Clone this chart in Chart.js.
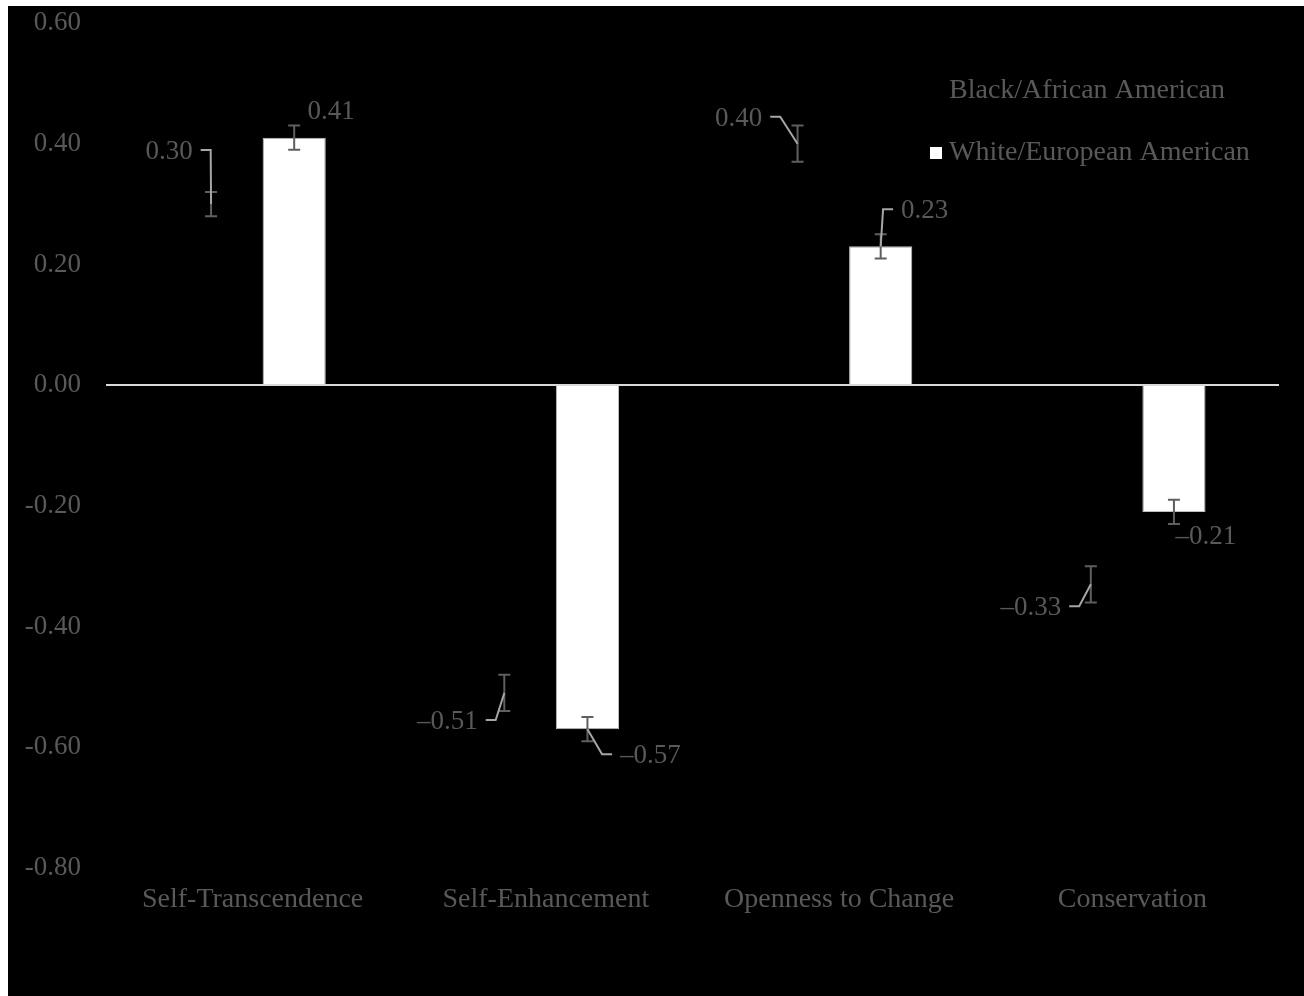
<!DOCTYPE html>
<html>
<head>
<meta charset="utf-8">
<script src="https://cdn.jsdelivr.net/npm/chart.js@4.4.1/dist/chart.umd.min.js"></script>
<style>
    body { margin: 0; background: #ffffff; }
    #wrap { position: absolute; left: 8px; top: 6px; width: 1296px; height: 990px; background: #000000; }
</style>
</head>
<body>
<div id="wrap"><canvas id="valuesChart"></canvas></div>
<script>
const categories = ['Self-Transcendence', 'Self-Enhancement', 'Openness to Change', 'Conservation'];
const seriesNames = ['Black/African American', 'White/European American'];
const blackValues = [0.30, -0.51, 0.40, -0.33];
const whiteValues = [0.41, -0.57, 0.23, -0.21];
const blackErrors = [0.02, 0.03, 0.03, 0.03];
const whiteErrors = [0.02, 0.02, 0.02, 0.02];
const yMin = -0.80;
const yMax = 0.60;
const yStep = 0.20;

const FONT = "'Liberation Serif', 'Times New Roman', serif";
const GRAY = '#595959';

// label placement (pixel offsets from the bar end, dragged like in the original)
const labelOffsets = [
    [{ dx: -42, dy: -52, leader: true }, { dx: -57, dy: 29, leader: true }, { dx: -59, dy: -25, leader: true }, { dx: -60, dy: 24, leader: true }],
    [{ dx: 37, dy: -26, leader: false }, { dx: 63, dy: 27, leader: true }, { dx: 44, dy: -35, leader: true }, { dx: 32, dy: 25, leader: false }]
];

const errorBars = {
    id: 'errorBars',
    afterDatasetsDraw(chart) {
        const ctx = chart.ctx;
        const y = chart.scales.y;
        ctx.save();
        ctx.strokeStyle = '#5f5f5f';
        ctx.lineWidth = 2;
        chart.data.datasets.forEach((ds, di) => {
            chart.getDatasetMeta(di).data.forEach((bar, i) => {
                const v = ds.data[i], e = ds.errors[i];
                const top = y.getPixelForValue(v + e);
                const bot = y.getPixelForValue(v - e);
                ctx.beginPath();
                ctx.moveTo(bar.x, top); ctx.lineTo(bar.x, bot);
                ctx.moveTo(bar.x - 6, top); ctx.lineTo(bar.x + 6, top);
                ctx.moveTo(bar.x - 6, bot); ctx.lineTo(bar.x + 6, bot);
                ctx.stroke();
            });
        });
        ctx.restore();
    }
};

const valueLabels = {
    id: 'valueLabels',
    afterDatasetsDraw(chart) {
        const ctx = chart.ctx;
        ctx.save();
        ctx.font = '27px ' + FONT;
        ctx.textAlign = 'center';
        ctx.textBaseline = 'middle';
        chart.data.datasets.forEach((ds, di) => {
            chart.getDatasetMeta(di).data.forEach((bar, i) => {
                const v = ds.data[i];
                const txt = v.toFixed(2).replace('-', '\u2013');
                const o = labelOffsets[di][i];
                const lx = bar.x + o.dx, ly = bar.y + o.dy;
                if (o.leader) {
                    const w = ctx.measureText(txt).width;
                    const side = o.dx < 0 ? 1 : -1;
                    const x0 = lx + side * (w / 2 + 8);
                    ctx.strokeStyle = '#a6a6a6';
                    ctx.lineWidth = 2;
                    ctx.beginPath();
                    ctx.moveTo(x0, ly - 2);
                    ctx.lineTo(x0 + side * 10, ly - 2);
                    ctx.lineTo(bar.x, bar.y);
                    ctx.stroke();
                }
                ctx.fillStyle = GRAY;
                ctx.fillText(txt, lx, ly);
            });
        });
        ctx.restore();
    }
};

const innerLegend = {
    id: 'innerLegend',
    afterDraw(chart) {
        const ctx = chart.ctx;
        const rows = [85, 147];
        ctx.save();
        ctx.font = '28px ' + FONT;
        ctx.textBaseline = 'middle';
        chart.data.datasets.forEach((ds, di) => {
            ctx.fillStyle = ds.backgroundColor;
            ctx.fillRect(922, rows[di] - 6, 12, 12);
            ctx.fillStyle = GRAY;
            ctx.fillText(ds.label, 941, rows[di]);
        });
        ctx.restore();
    }
};

new Chart(document.getElementById('valuesChart'), {
    type: 'bar',
    data: {
        labels: categories,
        datasets: [{
            label: seriesNames[0],
            data: blackValues,
            errors: blackErrors,
            backgroundColor: '#000000',
            categoryPercentage: 0.567,
            barPercentage: 0.76
        }, {
            label: seriesNames[1],
            data: whiteValues,
            errors: whiteErrors,
            backgroundColor: '#ffffff',
            borderColor: '#bfbfbf',
            borderWidth: 1,
            categoryPercentage: 0.567,
            barPercentage: 0.76
        }]
    },
    options: {
        responsive: true,
        maintainAspectRatio: false,
        animation: false,
        layout: { padding: { top: 17, right: 25, left: 0, bottom: 0 } },
        scales: {
            x: {
                grid: { display: false, drawTicks: false },
                border: { display: false },
                ticks: { color: GRAY, font: { family: FONT, size: 28 }, padding: 15, maxRotation: 0 },
                afterFit: function (scale) { scale.height = 128; }
            },
            y: {
                min: yMin,
                max: yMax,
                grid: {
                    z: 1,
                    drawTicks: true,
                    tickLength: 25,
                    tickColor: 'rgba(0,0,0,0)',
                    lineWidth: 2,
                    color: ctx => Math.abs(ctx.tick.value) < 1e-9 ? '#d9d9d9' : 'rgba(0,0,0,0)'
                },
                border: { display: false },
                ticks: {
                    stepSize: yStep,
                    color: GRAY,
                    padding: 0,
                    font: { family: FONT, size: 27, lineHeight: 1.0 },
                    callback: v => (Math.abs(v) < 1e-9 ? 0 : v).toFixed(2)
                },
                afterFit: function (scale) { scale.width = 98; }
            }
        },
        plugins: {
            legend: { display: false },
            tooltip: { enabled: false }
        }
    },
    plugins: [errorBars, valueLabels, innerLegend]
});
</script>
</body>
</html>
